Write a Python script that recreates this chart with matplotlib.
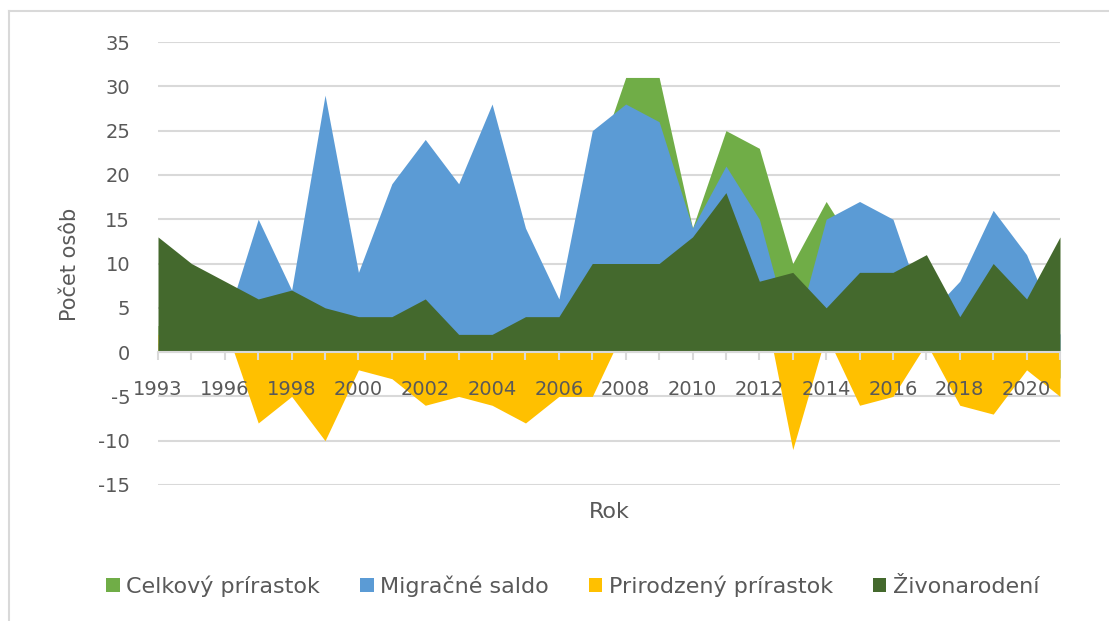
import numpy as np
import matplotlib.pyplot as plt
from matplotlib.lines import Line2D
from matplotlib.patches import Patch

# categories (1994 is missing in the source table)
years = ["1993"] + [str(y) for y in range(1995, 2022)]

celkovy = [3, 3, 6, 7, 2, 19, 7, 16, 18, 14, 22, 6, 1, 20, 31, 31, 14, 25, 23, 10,
           17, 11, 10, 5, 2, 9, 9, -3]
migracne = [1, 2, 3, 15, 7, 29, 9, 19, 24, 19, 28, 14, 6, 25, 28, 26, 14, 21, 15, 1,
            15, 17, 15, 4, 8, 16, 11, 2]
prirodzeny = [2, 1, 3, -8, -5, -10, -2, -3, -6, -5, -6, -8, -5, -5, 3, 5, 0, 4, 8, -11,
              2, -6, -5, 1, -6, -7, -2, -5]
zivonarodeni = [13, 10, 8, 6, 7, 5, 4, 4, 6, 2, 2, 4, 4, 10, 10, 10, 13, 18, 8, 9,
                5, 9, 9, 11, 4, 10, 6, 13]

series_names = ["Celkový prírastok", "Migračné saldo", "Prirodzený prírastok", "Živonarodení"]
series_colors = ["#70AD47", "#5B9BD5", "#FFC000", "#44692D"]
yticks = [-15, -10, -5, 0, 5, 10, 15, 20, 25, 30, 35]

TXT = "#595959"
GRID = "#D9D9D9"
plt.rcParams['font.family'] = ['DejaVu Sans']

W, H = 1109, 621
fig = plt.figure(figsize=(W / 100, H / 100), dpi=100)
ax = fig.add_axes([158 / W, 1 - 485 / H, (1060 - 158) / W, (485 - 42) / H])

x = np.arange(len(years))
for vals, col in zip([celkovy, migracne, prirodzeny, zivonarodeni], series_colors):
    ax.fill_between(x, 0, vals, color=col, linewidth=0, zorder=1)

for v in yticks:
    ax.axhline(v, color=GRID, lw=1.5, zorder=0)

ax.set_xlim(0, len(years) - 1)
ax.set_ylim(-15, 35)
ax.set_yticks(yticks)
ax.set_yticklabels([str(v) for v in yticks])
ax.tick_params(axis='y', length=0, pad=20, labelsize=14, labelcolor=TXT)

ax.set_xticks(x)
ax.set_xticklabels([y if i % 2 == 0 else "" for i, y in enumerate(years)])
ax.tick_params(axis='x', direction='out', length=6, width=1.5, color=GRID,
               pad=14, labelsize=14, labelcolor=TXT)

for s in ["top", "right", "left"]:
    ax.spines[s].set_visible(False)
ax.spines["bottom"].set_position(("data", 0))
ax.spines["bottom"].set_color(GRID)
ax.spines["bottom"].set_linewidth(1.5)
ax.spines["bottom"].set_zorder(3)
ax.set_facecolor("none")

fig.text(70 / W, 1 - 264 / H, "Počet osôb", rotation=90, ha="center", va="center",
         fontsize=15, color=TXT)
fig.text(609 / W, 1 - 512 / H, "Rok", ha="center", va="center", fontsize=16, color=TXT)

handles = [Patch(facecolor=c, edgecolor="none") for c in series_colors]
fig.legend(handles, series_names, loc="center", bbox_to_anchor=(573 / W, 1 - 586 / H),
           ncol=4, frameon=False, fontsize=16, labelcolor=TXT,
           handlelength=0.6, handleheight=0.6, handletextpad=0.3, columnspacing=1.8)

# chart border (only left/top edges are in frame)
fig.add_artist(Line2D([9 / W, 9 / W], [0, 1 - 11 / H], color=GRID, lw=1.5))
fig.add_artist(Line2D([9 / W, 1], [1 - 11 / H, 1 - 11 / H], color=GRID, lw=1.5))

fig.savefig("out.png", dpi=100)
